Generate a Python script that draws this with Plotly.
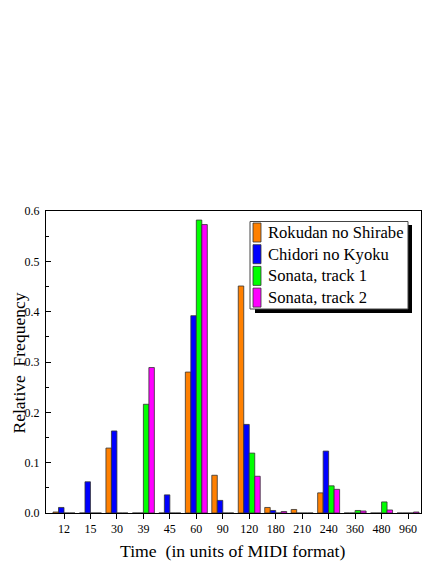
import plotly.graph_objects as go

# Time bins (in units of MIDI format)
times = ["12", "15", "30", "39", "45", "60", "90", "120", "180", "210", "240", "360", "480", "960"]

rokudan = [0.002, 0, 0.129, 0, 0, 0.280, 0.075, 0.451, 0.011, 0.007, 0.040, 0, 0, 0]
chidori = [0.011, 0.062, 0.163, 0, 0.036, 0.392, 0.025, 0.176, 0.005, 0, 0.123, 0, 0, 0]
sonata1 = [0, 0, 0, 0.216, 0, 0.582, 0, 0.119, 0, 0, 0.054, 0.005, 0.022, 0]
sonata2 = [0, 0, 0, 0.289, 0, 0.573, 0, 0.073, 0.003, 0, 0.047, 0.004, 0.006, 0.002]

names = ["Rokudan no Shirabe", "Chidori no Kyoku", "Sonata, track 1", "Sonata, track 2"]
colors = ["#ff8000", "#0000ff", "#00ff00", "#ff00ff"]

FONT = "Liberation Serif, Times New Roman, serif"
OFF = 8  # page body margin
W, H = 436 - OFF, 564 - OFF
L, T = 46 - OFF, 211 - OFF
R, B = W - (421 - OFF), H - (513 - OFF)
pw, ph = W - L - R, H - T - B


# helpers: page pixel positions -> paper coords
def px_x(x):
    return (x - OFF - L) / pw


def px_y(y):
    return (H - B - (y - OFF)) / ph


fig = go.Figure()
for name, vals, c in zip(names, [rokudan, chidori, sonata1, sonata2], colors):
    fig.add_trace(go.Bar(
        x=times, y=vals, name=name, marker_color=c,
        marker_line=dict(color="#333333", width=0.8),
        showlegend=False,
    ))

# --- legend box with drop shadow ---
fig.add_shape(type="rect", xref="paper", yref="paper",
              x0=px_x(255), x1=px_x(412), y0=px_y(313), y1=px_y(225),
              fillcolor="black", line=dict(width=0))
fig.add_shape(type="rect", xref="paper", yref="paper",
              x0=px_x(250), x1=px_x(408), y0=px_y(309), y1=px_y(221.5),
              fillcolor="white", line=dict(color="#444444", width=1))
for i, (name, c) in enumerate(zip(names, colors)):
    top = 223 + i * 21.7
    fig.add_shape(type="rect", xref="paper", yref="paper",
                  x0=px_x(253), x1=px_x(261), y0=px_y(top + 19), y1=px_y(top),
                  fillcolor=c, line=dict(color="#333333", width=0.8))
    fig.add_annotation(x=px_x(266), y=px_y(top + 9.5), xref="paper", yref="paper",
                       text=name, showarrow=False, xanchor="left", yanchor="middle",
                       font=dict(family=FONT, size=16.6, color="black"))

# --- axis titles ---
fig.add_annotation(x=px_x(232), y=px_y(551), xref="paper", yref="paper",
                   text="Time&nbsp; (in units of MIDI format)", showarrow=False,
                   xanchor="center", yanchor="middle",
                   font=dict(family=FONT, size=17.7, color="black"))
fig.add_annotation(x=px_x(18.5), y=px_y(363), xref="paper", yref="paper",
                   text="Relative&nbsp; Frequency", showarrow=False, textangle=-90,
                   xanchor="center", yanchor="middle",
                   font=dict(family=FONT, size=17.5, color="black"))

fig.update_layout(
    width=W, height=H,
    margin=dict(l=L, r=R, t=T, b=B, autoexpand=False),
    plot_bgcolor="white", paper_bgcolor="white",
    barmode="group", bargap=0.17, bargroupgap=0,
    font=dict(family=FONT, size=12, color="black"),
)
fig.update_xaxes(
    type="category", range=[-0.68, 13.49],
    showline=True, linecolor="black", linewidth=1, mirror=True,
    ticks="outside", ticklen=5, tickcolor="black",
    showgrid=False, zeroline=False,
    tickfont=dict(family=FONT, size=12),
)
fig.update_yaxes(
    range=[0, 0.6], dtick=0.1, tickformat=".1f",
    showline=True, linecolor="black", linewidth=1, mirror=True,
    ticks="inside", ticklen=5, tickcolor="black",
    minor=dict(dtick=0.05, ticks="inside", ticklen=3, tickcolor="black", showgrid=False),
    showgrid=False, zeroline=False,
    tickfont=dict(family=FONT, size=12),
    ticklabelstandoff=3,
)

fig.write_html("out.html")
